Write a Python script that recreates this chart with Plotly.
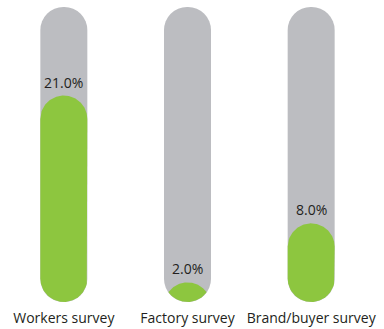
import numpy as np
import plotly.graph_objects as go

# Survey results (share of respondents, %)
categories = ["Workers survey", "Factory survey", "Brand/buyer survey"]
values = [21.0, 2.0, 8.0]
scale_max = 30.0  # full height of each track

GRAY = "#BCBDC1"
GREEN = "#8DC63F"
TEXT = "#231F20"
FONT = "Open Sans"
BAR_W = 0.38

W, H = 384, 329
M = dict(l=2, r=11, t=7, b=27)
x_range = [-0.5, len(categories) - 0.5]
y_range = [0, scale_max]

# pixels per data unit on each axis (needed to keep the end caps circular)
px_x = (W - M["l"] - M["r"]) / (x_range[1] - x_range[0])
px_y = (H - M["t"] - M["b"]) / (y_range[1] - y_range[0])
r_px = BAR_W / 2 * px_x


def pill(xc, v, n=80):
    """Stadium of height v with circular caps; becomes a lens when v is shorter than the caps."""
    top_c = v * px_y - r_px   # centre of upper cap, px from baseline
    bot_c = r_px              # centre of lower cap
    dx = np.linspace(-r_px, r_px, n)
    arc = np.sqrt(np.clip(r_px ** 2 - dx ** 2, 0, None))
    top = top_c + arc
    bot = bot_c - arc
    keep = top >= bot
    dx, top, bot = dx[keep], top[keep], bot[keep]
    xs = np.concatenate([dx, dx[::-1]]) / px_x + xc
    ys = np.concatenate([top, bot[::-1]]) / px_y
    return xs, ys


x_pos = list(range(len(categories)))

fig = go.Figure()

# Background tracks
fig.add_trace(go.Bar(
    x=x_pos, y=[scale_max] * len(categories), base=[0] * len(categories),
    width=BAR_W, marker=dict(color=GRAY, cornerradius="50%", line=dict(width=0)),
    hoverinfo="skip", showlegend=False))

# Value fills
for xc, v in zip(x_pos, values):
    xs, ys = pill(xc, v)
    fig.add_trace(go.Scatter(
        x=xs, y=ys, mode="lines", fill="toself", fillcolor=GREEN,
        line=dict(width=0, color=GREEN), hoverinfo="skip", showlegend=False))

for xc, v in zip(x_pos, values):
    fig.add_annotation(x=xc, y=v, text=f"{v:.1f}%", showarrow=False,
                       yanchor="bottom", yshift=2,
                       font=dict(family=FONT, size=14, color=TEXT))

fig.update_layout(
    width=W, height=H,
    margin=M,
    barmode="overlay",
    paper_bgcolor="white", plot_bgcolor="white",
    font=dict(family=FONT, size=14, color=TEXT),
    xaxis=dict(range=x_range, tickmode="array", tickvals=x_pos, ticktext=categories,
               showgrid=False, zeroline=False, showline=False, ticks="",
               ticklabelstandoff=6,
               tickfont=dict(family=FONT, size=14, color=TEXT)),
    yaxis=dict(range=y_range, visible=False),
)

fig.write_html("out.html")
